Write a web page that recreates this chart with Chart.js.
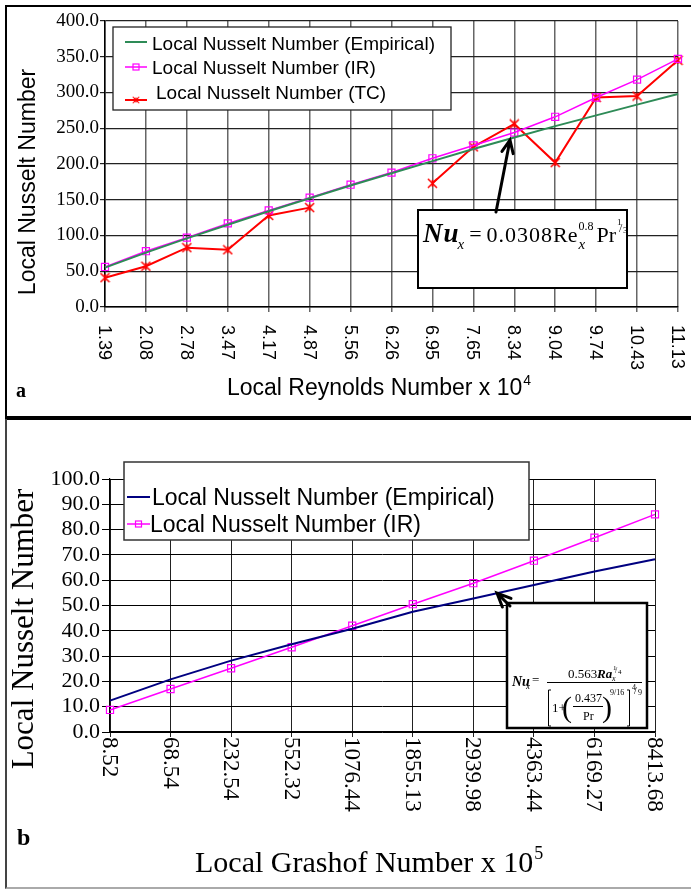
<!DOCTYPE html>
<html lang="en">
<head>
<meta charset="UTF-8">
<title>Local Nusselt Number</title>
<script src="https://cdn.jsdelivr.net/npm/chart.js"></script>
<style>
  body { margin: 0; background: #fff; }
  #page { position: relative; width: 691px; height: 895px; overflow: hidden; }
  #page canvas { position: absolute; left: 0; top: 0; }
  .frame { position: absolute; box-sizing: border-box; }
</style>
</head>
<body>
<div id="page">
  <div class="frame" style="left:5px;top:5px;width:700px;height:415px;border:2px solid #000;border-bottom-width:4px;"></div>
  <div class="frame" style="left:5px;top:419px;width:700px;height:470px;border-left:2px solid #444;border-bottom:2px solid #aaa;"></div>
  <canvas id="chartA" width="691" height="895"></canvas>
  <canvas id="chartB" width="691" height="895"></canvas>
</div>

<script>
// ---- panel a: local Reynolds number x 10^4
const reLabels = ['1.39', '2.08', '2.78', '3.47', '4.17', '4.87', '5.56', '6.26',
                  '6.95', '7.65', '8.34', '9.04', '9.74', '10.43', '11.13'];
const nuEmpA = [55, 76, 96, 115, 134, 152, 170, 187, 204, 221, 237, 253, 268, 283, 298];
const nuIrA  = [56, 78, 97, 117, 135, 153, 171, 188, 208, 226, 244, 266, 293, 318, 347];
const nuTcA  = [41, 57, 83, 80, 128, 139, null, null, 173, 224, 256, 202, 293, 295, 345];
const yTicksA = [0, 50, 100, 150, 200, 250, 300, 350, 400];

// ---- panel b: local Grashof number x 10^5
const grLabels = ['8.52', '68.54', '232.54', '552.32', '1076.44', '1855.13',
                  '2939.98', '4363.44', '6169.27', '8413.68'];
const nuEmpB = [12.4, 20.8, 28.2, 34.7, 40.8, 47.5, 52.8, 58.1, 63.4, 68.3];
const nuIrB  = [8.7, 17.0, 25.2, 33.5, 42.0, 50.5, 58.8, 67.7, 76.8, 86.0];
const yTicksB = [0, 10, 20, 30, 40, 50, 60, 70, 80, 90, 100];

const SANS = '"Liberation Sans", Arial, sans-serif';
const SERIF = '"Liberation Serif", "Times New Roman", serif';

// excel style star marker (x with a vertical bar)
function starMarker(color, size) {
  const c = document.createElement('canvas');
  c.width = c.height = size;
  const g = c.getContext('2d');
  const m = size / 2, r = size / 2 - 1;
  g.strokeStyle = color;
  g.lineWidth = 1.5;
  g.beginPath();
  g.moveTo(m - r, m - r); g.lineTo(m + r, m + r);
  g.moveTo(m + r, m - r); g.lineTo(m - r, m + r);
  g.moveTo(m, m - r * 0.8); g.lineTo(m, m + r * 0.8);
  g.stroke();
  return c;
}

function txt(ctx, s, x, y, font) {
  ctx.font = font;
  ctx.fillText(s, x, y);
  return ctx.measureText(s).width;
}

function supTitle(ctx, main, sup, x, y, font, supFont, rise) {
  const w = txt(ctx, main, x, y, font);
  txt(ctx, sup, x + w + 1, y - rise, supFont);
}

function rotatedTicks(ctx, scale, labels, top, font) {
  ctx.font = font;
  ctx.textAlign = 'left';
  ctx.textBaseline = 'middle';
  labels.forEach((t, i) => {
    ctx.save();
    ctx.translate(scale.getPixelForTick(i) - 1, top);
    ctx.rotate(Math.PI / 2);
    ctx.fillText(t, 0, 0);
    ctx.restore();
  });
  ctx.textBaseline = 'alphabetic';
}

function yTitle(ctx, s, x, y, font) {
  ctx.save();
  ctx.translate(x, y);
  ctx.rotate(-Math.PI / 2);
  ctx.textAlign = 'center';
  ctx.font = font;
  ctx.fillText(s, 0, 0);
  ctx.restore();
}

function drawLegend(ctx, chart, b) {
  ctx.save();
  ctx.fillStyle = '#fff';
  ctx.fillRect(b.x, b.y, b.w, b.h);
  ctx.strokeStyle = b.stroke;
  ctx.lineWidth = b.lw;
  ctx.strokeRect(b.x, b.y, b.w, b.h);
  ctx.textAlign = 'left';
  chart.data.datasets.forEach((ds, i) => {
    const r = b.rows[i];
    ctx.strokeStyle = ds.borderColor;
    ctx.lineWidth = ds.borderWidth;
    ctx.beginPath();
    ctx.moveTo(b.lx0, r.my);
    ctx.lineTo(b.lx1, r.my);
    ctx.stroke();
    const mx = (b.lx0 + b.lx1) / 2;
    if (ds.pointStyle === 'rect') {
      ctx.lineWidth = 1.2;
      ctx.strokeRect(mx - 3, r.my - 3, 6, 6);
    } else if (ds.pointStyle instanceof HTMLCanvasElement) {
      ctx.drawImage(ds.pointStyle, mx - 4, r.my - 4, 8, 8);
    }
    ctx.fillStyle = '#000';
    txt(ctx, ds.label, r.tx, r.ty, b.font);
  });
  ctx.restore();
}

function arrow(ctx, x0, y0, x1, y1, head, lw) {
  const a = Math.atan2(y0 - y1, x0 - x1);
  ctx.save();
  ctx.strokeStyle = '#000';
  ctx.lineWidth = lw;
  ctx.lineCap = 'round';
  ctx.beginPath();
  ctx.moveTo(x0, y0); ctx.lineTo(x1, y1);
  ctx.moveTo(x1 + head * Math.cos(a + 0.42), y1 + head * Math.sin(a + 0.42));
  ctx.lineTo(x1, y1);
  ctx.lineTo(x1 + head * Math.cos(a - 0.42), y1 + head * Math.sin(a - 0.42));
  ctx.stroke();
  ctx.restore();
}

const decorA = {
  id: 'decorA',
  afterDraw(chart) {
    const ctx = chart.ctx;
    ctx.save();
    ctx.fillStyle = '#000';
    rotatedTicks(ctx, chart.scales.x, reLabels, 325, '18px ' + SANS);
    supTitle(ctx, 'Local Reynolds Number x 10', '4', 227, 395, '23px ' + SANS, '14px ' + SANS, 10);
    yTitle(ctx, 'Local Nusselt Number', 35, 182, '23px ' + SANS);
    txt(ctx, 'a', 16, 397, 'bold 20px ' + SERIF);

    drawLegend(ctx, chart, {
      x: 113, y: 27, w: 338, h: 83, stroke: '#222', lw: 1.3,
      lx0: 125, lx1: 147, font: '19px ' + SANS,
      rows: [{ my: 42, tx: 152, ty: 50 }, { my: 67, tx: 152, ty: 74 }, { my: 100, tx: 156, ty: 99 }]
    });

    // correlation box, laid out left to right
    ctx.fillStyle = '#fff';
    ctx.fillRect(418, 210, 209, 78);
    ctx.strokeStyle = '#000';
    ctx.lineWidth = 2;
    ctx.strokeRect(418, 210, 209, 78);
    ctx.fillStyle = '#000';
    const base = 242;
    let x = 423;
    x += txt(ctx, 'N', x, base, 'bold italic 27px ' + SERIF) + 1;
    x += txt(ctx, 'u', x, base, 'bold italic 27px ' + SERIF) - 1;
    x += txt(ctx, 'x', x, base + 7, 'italic 15px ' + SERIF) + 5;
    x += txt(ctx, '=', x, base - 1, '22px ' + SERIF) + 5;
    ctx.letterSpacing = '1px';
    x += txt(ctx, '0.0308', x, base, '22px ' + SERIF);
    ctx.letterSpacing = '0px';
    x += txt(ctx, 'Re', x, base, '22px ' + SERIF) + 1;
    const w1 = txt(ctx, '0.8', x, base - 12, '12px ' + SERIF);
    txt(ctx, 'x', x, base + 7, 'italic 15px ' + SERIF);
    x += w1 + 3;
    x += txt(ctx, 'Pr', x, base, '22px ' + SERIF) + 1;
    txt(ctx, '1', x, base - 17, '9px ' + SERIF);
    txt(ctx, '/', x + 2, base - 10, '12px ' + SERIF);
    txt(ctx, '3', x + 6, base - 9, '9px ' + SERIF);

    arrow(ctx, 496, 212, 510, 140, 14, 3);
    ctx.restore();
  }
};

const decorB = {
  id: 'decorB',
  afterDraw(chart) {
    const ctx = chart.ctx;
    ctx.save();
    ctx.fillStyle = '#000';
    rotatedTicks(ctx, chart.scales.x, grLabels, 737, '23px ' + SERIF);
    supTitle(ctx, 'Local Grashof Number x 10', '5', 195, 872, '30px ' + SERIF, '18px ' + SERIF, 13);
    yTitle(ctx, 'Local Nusselt Number', 33, 629, '31px ' + SERIF);
    txt(ctx, 'b', 17, 845, 'bold 24px ' + SERIF);

    drawLegend(ctx, chart, {
      x: 124, y: 462, w: 405, h: 78, stroke: '#333', lw: 1.5,
      lx0: 127, lx1: 150, font: '23px ' + SANS,
      rows: [{ my: 497, tx: 152, ty: 505 }, { my: 524, tx: 150, ty: 532 }]
    });

    // correlation box
    ctx.fillStyle = '#fff';
    ctx.fillRect(507, 603, 140, 125);
    ctx.strokeStyle = '#000';
    ctx.lineWidth = 2.5;
    ctx.strokeRect(507, 603, 140, 125);
    ctx.fillStyle = '#000';
    txt(ctx, 'Nu', 512, 686, 'bold italic 14px ' + SERIF);
    txt(ctx, 'x', 526, 689, 'italic 9px ' + SERIF);
    txt(ctx, '=', 532, 684, '13px ' + SERIF);
    txt(ctx, '0.563', 568, 678, '13px ' + SERIF);
    txt(ctx, 'Ra', 597, 678, 'bold italic 13px ' + SERIF);
    txt(ctx, 'x', 612, 681, 'italic 8px ' + SERIF);
    txt(ctx, '1', 613, 670, '7px ' + SERIF);
    txt(ctx, '/', 615, 673, '8px ' + SERIF);
    txt(ctx, '4', 618, 674, '7px ' + SERIF);
    ctx.lineWidth = 1;
    ctx.beginPath();
    ctx.moveTo(547, 682.5); ctx.lineTo(642, 682.5);
    ctx.moveTo(573, 706.5); ctx.lineTo(603, 706.5);
    // square brackets
    ctx.moveTo(551, 690); ctx.lineTo(548.5, 690); ctx.lineTo(548.5, 726); ctx.lineTo(551, 726);
    ctx.moveTo(627, 690); ctx.lineTo(629.5, 690); ctx.lineTo(629.5, 726); ctx.lineTo(627, 726);
    ctx.stroke();
    txt(ctx, '1+', 552, 712, '13px ' + SERIF);
    txt(ctx, '(', 562, 717, '30px ' + SERIF);
    txt(ctx, '0.437', 575, 702, '12px ' + SERIF);
    txt(ctx, 'Pr', 583, 720, '12px ' + SERIF);
    txt(ctx, ')', 602, 717, '30px ' + SERIF);
    txt(ctx, '9/16', 610, 695, '8px ' + SERIF);
    txt(ctx, '4', 632, 690, '8px ' + SERIF);
    txt(ctx, '/', 634, 694, '10px ' + SERIF);
    txt(ctx, '9', 638, 695, '8px ' + SERIF);

    arrow(ctx, 510, 606, 497, 593, 15, 3);
    ctx.restore();
  }
};

const noUi = { legend: { display: false }, tooltip: { enabled: false } };

new Chart(document.getElementById('chartA'), {
  type: 'line',
  data: {
    labels: reLabels,
    datasets: [
      { label: 'Local Nusselt Number (Empirical)', data: nuEmpA, borderColor: '#2e8b57',
        borderWidth: 2, pointRadius: 0, tension: 0, clip: false },
      { label: 'Local Nusselt Number (IR)', data: nuIrA, borderColor: '#ff00ff', borderWidth: 1.5,
        pointStyle: 'rect', pointRadius: 5, pointBorderColor: '#ff00ff', pointBorderWidth: 1.2,
        pointBackgroundColor: 'rgba(255,255,255,0)', tension: 0, clip: false },
      { label: 'Local Nusselt Number (TC)', data: nuTcA, borderColor: '#ff0000', borderWidth: 2,
        pointStyle: starMarker('#ff0000', 11), tension: 0, clip: false }
    ]
  },
  options: {
    responsive: false,
    animation: false,
    events: [],
    layout: { padding: { left: 0, top: 21, right: 13, bottom: 895 - 307 - 10 } },
    plugins: noUi,
    scales: {
      x: {
        ticks: { display: false },
        grid: { color: '#666', lineWidth: 1.5, tickLength: 5 },
        border: { color: '#000', width: 1.5 },
        afterFit: s => { s.height = 10; }
      },
      y: {
        min: 0, max: 400,
        afterBuildTicks: s => { s.ticks = yTicksA.map(v => ({ value: v })); },
        ticks: { autoSkip: false, padding: 1, color: '#000',
                 font: { family: SERIF, size: 19, lineHeight: 1 },
                 callback: v => v.toFixed(1) },
        grid: { color: '#222', lineWidth: 1.2, tickLength: 5 },
        border: { color: '#000', width: 1.5 },
        afterFit: s => { s.width = 105; }
      }
    }
  },
  plugins: [decorA]
});

new Chart(document.getElementById('chartB'), {
  type: 'line',
  data: {
    labels: grLabels,
    datasets: [
      { label: 'Local Nusselt Number (Empirical)', data: nuEmpB, borderColor: '#000080',
        borderWidth: 2, pointRadius: 0, tension: 0, clip: false },
      { label: 'Local Nusselt Number (IR)', data: nuIrB, borderColor: '#ff00ff', borderWidth: 1.5,
        pointStyle: 'rect', pointRadius: 5, pointBorderColor: '#ff00ff', pointBorderWidth: 1.2,
        pointBackgroundColor: 'rgba(255,255,255,0)', tension: 0, clip: false }
    ]
  },
  options: {
    responsive: false,
    animation: false,
    events: [],
    layout: { padding: { left: 0, top: 479, right: 36, bottom: 895 - 732 - 10 } },
    plugins: noUi,
    scales: {
      x: {
        ticks: { display: false },
        grid: { color: '#222', lineWidth: 1, tickLength: 5 },
        border: { color: '#000', width: 1.2 },
        afterFit: s => { s.height = 10; }
      },
      y: {
        min: 0, max: 100,
        afterBuildTicks: s => { s.ticks = yTicksB.map(v => ({ value: v })); },
        ticks: { autoSkip: false, padding: 2, color: '#000',
                 font: { family: SERIF, size: 22, lineHeight: 1 },
                 callback: v => v.toFixed(1) },
        grid: { color: '#000', lineWidth: 1, tickLength: 8 },
        border: { color: '#000', width: 1.2 },
        afterFit: s => { s.width = 110; }
      }
    }
  },
  plugins: [decorB]
});
</script>
</body>
</html>
